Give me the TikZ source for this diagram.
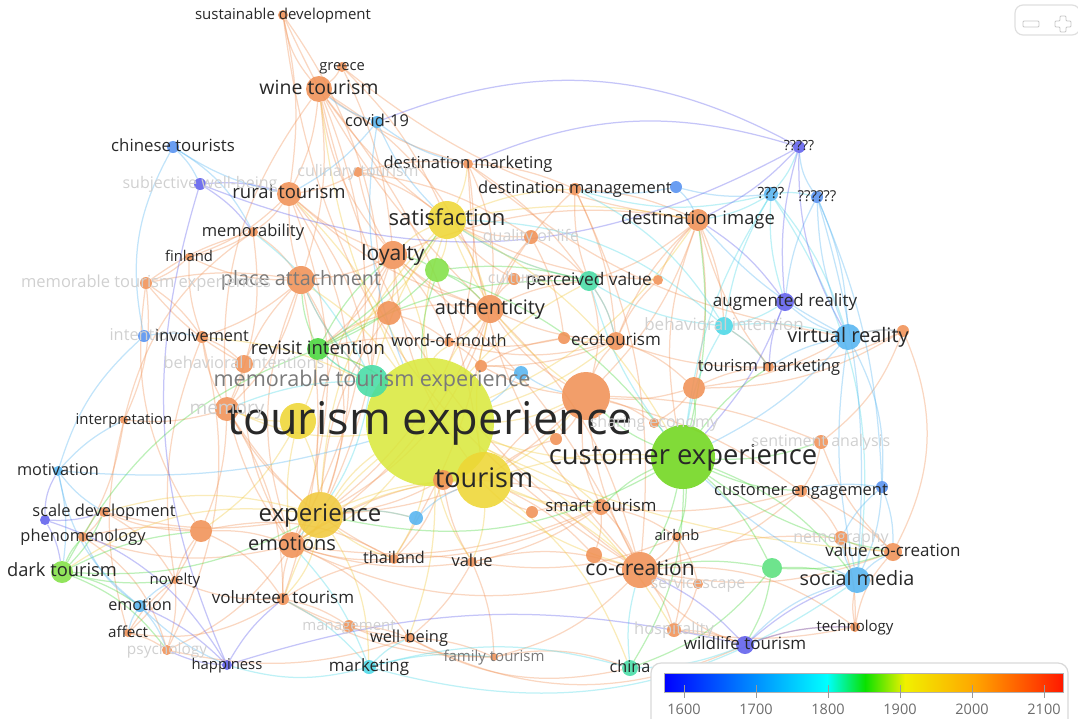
\documentclass[tikz,border=0pt]{standalone}
\usepackage{fontspec}
\setmainfont{Open Sans}
\pgfdeclarelayer{bg}
\pgfsetlayers{bg,main}

\definecolor{txt}{RGB}{40,40,40}
\definecolor{vorange}{RGB}{240,145,85}
\definecolor{vyellow}{RGB}{238,214,52}
\definecolor{vgold}{RGB}{240,200,60}
\definecolor{vlime}{RGB}{218,232,62}
\definecolor{vgreen}{RGB}{112,214,28}
\definecolor{vgreen2}{RGB}{72,214,60}
\definecolor{vlgreen}{RGB}{130,224,70}
\definecolor{vsea}{RGB}{90,224,125}
\definecolor{vteal}{RGB}{70,220,165}
\definecolor{vcyan}{RGB}{75,215,230}
\definecolor{vsky}{RGB}{85,180,240}
\definecolor{vblue}{RGB}{85,145,240}
\definecolor{vindigo}{RGB}{95,95,236}

\newcommand{\fs}[1]{\fontsize{#1}{#1}\selectfont}

\tikzset{
  kw/.style={circle, fill=#1, draw=none, inner sep=0pt, fill opacity=0.88},
  lbl/.style={anchor=base, inner sep=0pt, text=txt, font=\fs{#1}, yshift=-0.27*#1pt},
  dim/.style={text=txt!62},
  faint/.style={text=txt!22},
  edge/.style={draw=#1, line width=1.25pt, draw opacity=0.36},
}

\begin{document}
\begin{tikzpicture}[x=1pt, y=-1pt]
    \useasboundingbox (0,0) rectangle (1078,718);

    % keywords: circles
    \node[kw=vlime, minimum size=128pt] (te) at (430,422) {};
    \node[kw=vorange, minimum size=48pt] (big) at (586,396) {};
    \node[kw=vgreen, minimum size=64pt] (ce) at (683,457) {};
    \node[kw=vyellow, minimum size=56pt] (tou) at (484,480) {};
    \node[kw=vorange, minimum size=20pt] (tor) at (443,480) {};
    \node[kw=vyellow, minimum size=38pt] (sat) at (447,220) {};
    \node[kw=vgold, minimum size=46pt] (exp) at (320,515) {};
    \node[kw=vyellow, minimum size=36pt] (y298) at (298,421) {};
    \node[kw=vorange, minimum size=36pt] (cocr) at (640,570) {};
    \node[kw=vorange, minimum size=26pt] (wine) at (319,89) {};
    \node[kw=vorange, minimum size=24pt] (rural) at (289,194) {};
    \node[kw=vorange, minimum size=22pt] (dimg) at (698,220) {};
    \node[kw=vorange, minimum size=28pt] (loy) at (393,255) {};
    \node[kw=vorange, minimum size=28pt] (auth) at (490,309) {};
    \node[kw=vorange, minimum size=28pt] (pla) at (301,280) {};
    \node[kw=vteal, minimum size=32pt] (mte) at (372,381) {};
    \node[kw=vgreen2, minimum size=22pt] (rev) at (318,349) {};
    \node[kw=vorange, minimum size=26pt] (emos) at (292,545) {};
    \node[kw=vsky, minimum size=26pt] (smed) at (857,580) {};
    \node[kw=vsky, minimum size=26pt] (vr) at (848,337) {};
    \node[kw=vlgreen, minimum size=22pt] (dark) at (62,572) {};
    \node[kw=vindigo, minimum size=18pt] (ar) at (785,302) {};
    \node[kw=vindigo, minimum size=18pt] (wild) at (745,645) {};
    \node[kw=vorange, minimum size=18pt] (vcc) at (893,552) {};
    \node[kw=vorange, minimum size=16pt] (smart) at (601,507) {};
    \node[kw=vorange, minimum size=12pt] (ceng) at (801,491) {};
    \node[kw=vblue, minimum size=12pt] (ceb) at (882,487) {};
    \node[kw=vteal, minimum size=20pt] (pv) at (589,281) {};
    \node[kw=vorange, minimum size=10pt] (pvr) at (658,280) {};
    \node[kw=vorange, minimum size=12pt] (cult) at (514,279) {};
    \node[kw=vorange, minimum size=18pt] (eco) at (616,341) {};
    \node[kw=vorange, minimum size=12pt] (ecol) at (564,338) {};
    \node[kw=vorange, minimum size=10pt] (tmk) at (769,367) {};
    \node[kw=vcyan, minimum size=18pt] (bint) at (724,326) {};
    \node[kw=vorange, minimum size=10pt] (dmk) at (468,164) {};
    \node[kw=vorange, minimum size=12pt] (dman) at (575,189) {};
    \node[kw=vblue, minimum size=12pt] (dmanb) at (676,187) {};
    \node[kw=vsky, minimum size=12pt] (cov) at (377,122) {};
    \node[kw=vorange, minimum size=10pt] (gre) at (342,67) {};
    \node[kw=vorange, minimum size=10pt] (sdev) at (283,15) {};
    \node[kw=vblue, minimum size=12pt] (chi) at (173,147) {};
    \node[kw=vindigo, minimum size=12pt] (swb) at (200,184) {};
    \node[kw=vorange, minimum size=10pt] (cul) at (358,172) {};
    \node[kw=vorange, minimum size=10pt] (memb) at (253,232) {};
    \node[kw=vorange, minimum size=8pt] (fin) at (189,257) {};
    \node[kw=vorange, minimum size=12pt] (mtes) at (146,283) {};
    \node[kw=vblue, minimum size=12pt] (invb) at (144,336) {};
    \node[kw=vorange, minimum size=12pt] (inv) at (202,337) {};
    \node[kw=vorange, minimum size=18pt] (beh) at (244,364) {};
    \node[kw=vorange, minimum size=24pt] (mem) at (227,409) {};
    \node[kw=vorange, minimum size=8pt] (interp) at (124,420) {};
    \node[kw=vsky, minimum size=10pt] (mot) at (58,471) {};
    \node[kw=vorange, minimum size=10pt] (scd) at (104,512) {};
    \node[kw=vindigo, minimum size=10pt] (scdb) at (45,520) {};
    \node[kw=vorange, minimum size=10pt] (phen) at (83,537) {};
    \node[kw=vorange, minimum size=22pt] (o201) at (201,531) {};
    \node[kw=vorange, minimum size=8pt] (nov) at (175,580) {};
    \node[kw=vsky, minimum size=12pt] (emo) at (140,606) {};
    \node[kw=vorange, minimum size=8pt] (aff) at (128,633) {};
    \node[kw=vorange, minimum size=10pt] (psy) at (167,650) {};
    \node[kw=vindigo, minimum size=10pt] (hap) at (227,665) {};
    \node[kw=vorange, minimum size=12pt] (vol) at (283,599) {};
    \node[kw=vorange, minimum size=12pt] (mgmt) at (349,626) {};
    \node[kw=vcyan, minimum size=14pt] (mkt) at (369,667) {};
    \node[kw=vorange, minimum size=10pt] (wb) at (409,638) {};
    \node[kw=vorange, minimum size=8pt] (fam) at (494,657) {};
    \node[kw=vteal, minimum size=16pt] (china) at (630,668) {};
    \node[kw=vorange, minimum size=10pt] (thai) at (394,559) {};
    \node[kw=vorange, minimum size=10pt] (val) at (472,562) {};
    \node[kw=vorange, minimum size=10pt] (air) at (677,537) {};
    \node[kw=vorange, minimum size=10pt] (tech) at (855,627) {};
    \node[kw=vsky, minimum size=14pt] (q4) at (771,194) {};
    \node[kw=vindigo, minimum size=12pt] (q5) at (799,147) {};
    \node[kw=vblue, minimum size=12pt] (q6) at (817,197) {};
    \node[kw=vorange, minimum size=10pt] (shar) at (654,423) {};
    \node[kw=vorange, minimum size=14pt] (sent) at (821,442) {};
    \node[kw=vorange, minimum size=14pt] (hosp) at (674,630) {};
    \node[kw=vorange, minimum size=14pt] (qol) at (531,237) {};
    \node[kw=vorange, minimum size=14pt] (capo) at (841,538) {};
    \node[kw=vsea, minimum size=20pt] (serv) at (772,568) {};
    \node[kw=vorange, minimum size=22pt] (o694) at (694,388) {};
    \node[kw=vlgreen, minimum size=24pt] (g437) at (437,270) {};
    \node[kw=vorange, minimum size=24pt] (o389) at (389,313) {};
    \node[kw=vorange, minimum size=12pt] (o481) at (481,366) {};
    \node[kw=vsky, minimum size=14pt] (b521) at (521,373) {};
    \node[kw=vsky, minimum size=14pt] (b416) at (416,518) {};
    \node[kw=vorange, minimum size=12pt] (o556) at (556,439) {};
    \node[kw=vorange, minimum size=12pt] (o532) at (532,512) {};
    \node[kw=vorange, minimum size=16pt] (o594) at (594,555) {};
    \node[kw=vorange, minimum size=10pt] (o698) at (698,584) {};
    \node[kw=vorange, minimum size=12pt] (o903) at (903,331) {};
    \node[kw=vorange, minimum size=10pt] (wom) at (449,342) {};

    % links
    \begin{pgfonlayer}{bg}
    \foreach \a/\b/\c in {wine/rural/10, wine/gre/-10, wine/sdev/15, wine/loy/-15, wine/auth/20, wine/dmk/-10, wine/sat/-8, wine/pla/12, wine/emos/25, wine/cocr/-20, wine/tou/15,
        sdev/rural/10, sdev/exp/30, sdev/cocr/-25, sdev/auth/-10, gre/loy/10, gre/dimg/-15,
        rural/memb/10, rural/pla/-8, rural/loy/-10, rural/fin/12, rural/mte/15, rural/emos/20, rural/auth/-12, rural/cul/-10,
        dmk/dman/10, dmk/auth/15, dmk/cocr/-20, dmk/vr/-15, dmk/pv/10,
        dman/dimg/10, dman/cocr/15, dman/auth/-10, dman/pv/-10, dman/eco/10,
        dimg/pv/10, dimg/eco/-12, dimg/loy/-15, dimg/bint/10, dimg/big/12, dimg/ce/-15, dimg/o694/10, dimg/tmk/-10,
        loy/pla/10, loy/auth/-10, loy/rev/12, loy/mte/-10, loy/o389/8, loy/wom/10, loy/tou/-15, loy/cocr/12,
        auth/eco/-10, auth/pv/10, auth/wom/10, auth/big/-12, auth/exp/20, auth/emos/15, auth/thai/10,
        pla/memb/-10, pla/inv/10, pla/beh/-10, pla/mem/15, pla/mte/-10, pla/fin/12, pla/mtes/-10, pla/emos/-20, pla/vol/15,
        memb/fin/10, memb/mtes/-10, memb/interp/-20, memb/mem/15,
        mtes/inv/10, mtes/interp/15, mtes/beh/-10, mtes/o201/-20,
        inv/beh/10, inv/mem/-10, inv/psy/20, inv/nov/-15, beh/mem/10, beh/emos/-15,
        mem/emos/-10, mem/o201/10, mem/vol/15, mem/exp/-10,
        interp/phen/10, interp/mem/-10, interp/aff/-15,
        scd/phen/10, scd/o201/-10, scd/exp/-12, scd/nov/15,
        phen/o201/10, phen/emos/-15, phen/psy/20,
        o201/emos/10, o201/nov/-10, o201/vol/15, o201/aff/10,
        nov/psy/10, nov/aff/-10, nov/vol/-12, aff/psy/10, aff/vol/-20, psy/wb/-15, psy/emos/-15,
        vol/emos/10, vol/wb/-10, vol/thai/12, vol/fam/-15, vol/mgmt/10,
        emos/exp/10, emos/thai/-10, emos/val/-12, emos/wb/15, emos/cocr/-20, emos/smart/-15,
        mgmt/wb/10, mgmt/fam/-10, wb/fam/10, wb/val/-10, wb/china/-20, wb/wild/-25,
        fam/val/-10, fam/china/15, fam/cocr/-15,
        thai/val/10, thai/smart/-12, val/cocr/15, val/smart/-10, val/air/-15,
        smart/cocr/10, smart/o532/-10, smart/air/12, smart/ceng/-10, smart/big/15, smart/o594/10,
        cocr/air/-10, cocr/o594/10, cocr/o698/-8, cocr/hosp/10, cocr/wild/-15, cocr/vcc/-15, cocr/capo/12, cocr/tech/20, cocr/ceng/-15, cocr/big/10,
        air/hosp/12, air/o698/10, air/ceng/-10, hosp/tech/-10, hosp/wild/10, hosp/o698/-10,
        ceng/vcc/10, ceng/capo/12, ceng/big/-10, ceng/sent/-12,
        vcc/capo/10, vcc/tech/-15, vcc/sent/12, vcc/o903/-25, capo/tech/10, sent/o903/-15, sent/big/-10,
        big/eco/10, big/o694/-10, big/o556/10, big/shar/10, big/tou/-12, big/pv/-15, big/exp/20, big/o481/10,
        o694/tmk/10, o694/o903/-15, o694/eco/-12, o694/shar/10, o694/vr/-10,
        tmk/o903/-10, tmk/eco/10, tmk/bint/-10,
        eco/ecol/10, eco/pv/-10, eco/wom/15, eco/o481/10, ecol/wom/10, ecol/o481/-10, ecol/qol/-10,
        qol/sat/10, qol/auth/-10, qol/pv/10, qol/cul/-12, cult/pv/10, cult/auth/-10, cult/sat/10,
        o389/wom/10, o389/rev/-10, o389/auth/10, o389/exp/-15, wom/o481/10, wom/rev/-10,
        o481/b521/10, o556/tou/-10, o532/tou/10, o594/tou/-10,
        tor/emos/-10, tor/exp/10, tor/val/-10, tor/thai/12, tor/smart/10,
        cul/sat/10, cul/loy/-10, cul/dmk/10, fin/mtes/10, fin/inv/-10,
        o903/vr/-10, tech/smed/10, tech/wild/-10, pvr/dimg/10, pvr/eco/-10, pvr/sat/12,
        pla/exp/25, loy/exp/-20, auth/cocr/15, wine/mem/-20, rural/exp/25, mem/thai/-15, o201/thai/20, dmk/exp/30, gre/sat/10}
        \draw[edge=vorange] (\a) to[bend left=\c] (\b);
    \foreach \a/\b/\c in {te/sat/10, te/loy/-10, te/auth/10, te/pla/-10, te/exp/-10, te/emos/15, te/cocr/-15, te/ce/-10, te/dimg/-15, te/rev/-10, te/mte/10, te/wine/10, te/rural/-10,
        te/smart/10, te/thai/10, te/val/-10, te/mem/15, te/vol/-15, te/big/-10, te/inv/-12, te/wom/10, te/pv/10, te/eco/-10, te/vcc/-10, te/hosp/15, te/wb/10,
        sat/loy/-10, sat/auth/10, sat/pv/-10, sat/dimg/10, sat/rev/15, sat/g437/10, sat/dmk/-10, sat/dman/10, sat/big/-15, sat/mte/-10, sat/exp/-20, sat/ce/15,
        tou/ce/10, tou/exp/-10, tou/cocr/10, tou/smart/-10, tou/val/10, tou/big/-10, tou/china/15, tou/emos/-15, tou/auth/10,
        exp/emos/10, exp/y298/-10, exp/vol/15, exp/thai/-10, exp/mkt/15, exp/b416/10, exp/scd/-15, exp/dark/-20,
        y298/mem/10, y298/rev/-10, y298/o201/12, y298/emos/-10}
        \draw[edge=vgold] (\a) to[bend left=\c] (\b);
    \foreach \a/\b/\c in {ce/cocr/10, ce/smart/-10, ce/big/10, ce/ceng/-10, ce/vcc/-12, ce/serv/10, ce/smed/15, ce/sent/-10, ce/air/10, ce/o694/-10, ce/china/15, ce/exp/20, ce/dimg/-10, ce/tmk/10,
        rev/loy/10, rev/mte/-10, rev/pla/10, rev/g437/-10, rev/dark/-20, rev/sat/-10, rev/te/10, rev/pv/15,
        g437/auth/10, g437/loy/-10, g437/pv/10, g437/te/-10, g437/ce/15,
        serv/smed/10, serv/cocr/-10, serv/china/15, serv/vcc/-10, serv/wild/10,
        dark/phen/10, dark/scd/-10, dark/emo/10, dark/nov/-10, dark/exp/-15, dark/psy/15, dark/o201/10}
        \draw[edge=vgreen2] (\a) to[bend left=\c] (\b);
    \foreach \a/\b/\c in {mte/pla/10, mte/mem/-10, mte/rev/10, mte/te/-10, mte/emos/15, mte/memb/-12,
        pv/sat/10, pv/ce/-10, pv/eco/10, pv/bint/-12, china/cocr/10, china/mkt/-15, china/wild/-10,
        bint/vr/10, bint/ar/-10, bint/q4/10, bint/ce/-10, bint/tmk/10, bint/dman/-15, bint/sat/-20,
        mkt/wb/10, mkt/emos/-10, mkt/hap/15, mkt/vol/-10, mkt/smed/-25, mkt/fam/10,
        q4/vr/10, q4/ar/-10, q4/dimg/10, q4/smed/20, q4/q6/10, q4/q5/-10, q4/ce/-12, q4/dman/15}
        \draw[edge=vcyan] (\a) to[bend left=\c] (\b);
    \foreach \a/\b/\c in {cov/wine/10, cov/sat/-10, cov/rural/10, cov/dmk/-12, cov/te/-15,
        vr/ar/10, vr/smed/-10, vr/ce/10, vr/q6/-10, vr/o903/10, vr/tmk/-10, vr/ceb/15, vr/dimg/10,
        smed/vcc/10, smed/ceb/-10, smed/ce/10, smed/wild/-15, smed/capo/10,
        mot/dark/10, mot/scd/-10, mot/invb/15, mot/emo/-20, mot/te/-10, mot/interp/10,
        emo/nov/10, emo/hap/-10, emo/phen/15, emo/psy/10, emo/aff/-10,
        invb/inv/10, invb/chi/20, chi/swb/10, chi/rural/-10, chi/memb/15,
        b521/te/10, b521/big/-10, b416/exp/-10, b416/tou/10,
        ceb/ceng/-10, ceb/vcc/10, ceb/capo/-10, dmanb/dman/10, dmanb/q4/-10, dmanb/dimg/10,
        q6/ar/-10, q6/q5/15, q6/smed/10, q6/vr/-10, q6/ceb/10}
        \draw[edge=vsky] (\a) to[bend left=\c] (\b);
    \foreach \a/\b/\c in {ar/q5/10, ar/ce/10, ar/dimg/-10, ar/tmk/-10,
        q5/dmk/-20, q5/vr/-15, q5/dimg/10, q5/cov/-25,
        wild/hap/-15, wild/smed/10, wild/cocr/-10, wild/tech/10,
        hap/psy/10, hap/emo/-10, hap/scdb/-20, hap/vol/10,
        swb/memb/10, swb/rural/10, swb/hap/-20, swb/q5/-25,
        scdb/dark/10, scdb/scd/-10, scdb/mot/15}
        \draw[edge=vindigo] (\a) to[bend left=\c] (\b);
    \end{pgfonlayer}

    % labels
    \node[lbl=45] (te-l) at (te) {tourism experience};
    \node[lbl=27.4] (ce-l) at (ce) {customer experience};
    \node[lbl=27] (tou-l) at (tou) {tourism};
    \node[lbl=22] (sat-l) at (sat) {satisfaction};
    \node[lbl=24] (exp-l) at (exp) {experience};
    \node[lbl=21] (cocr-l) at (cocr) {co-creation};
    \node[lbl=19.5] (wine-l) at (wine) {wine tourism};
    \node[lbl=18.5] (rural-l) at (rural) {rural tourism};
    \node[lbl=18.4] (dimg-l) at (dimg) {destination image};
    \node[lbl=21] (loy-l) at (loy) {loyalty};
    \node[lbl=20] (auth-l) at (auth) {authenticity};
    \node[lbl=19.8, dim] (pla-l) at (pla) {place attachment};
    \node[lbl=21.6, dim] (mte-l) at (mte) {memorable tourism experience};
    \node[lbl=18.5] (rev-l) at (rev) {revisit intention};
    \node[lbl=20] (emos-l) at (emos) {emotions};
    \node[lbl=19.8] (smed-l) at (smed) {social media};
    \node[lbl=20] (vr-l) at (vr) {virtual reality};
    \node[lbl=18.3] (dark-l) at (dark) {dark tourism};
    \node[lbl=17] (ar-l) at (ar) {augmented reality};
    \node[lbl=17] (wild-l) at (wild) {wildlife tourism};
    \node[lbl=17] (vcc-l) at (vcc) {value co-creation};
    \node[lbl=16.8] (smart-l) at (smart) {smart tourism};
    \node[lbl=16.5] (ceng-l) at (ceng) {customer engagement};
    \node[lbl=17.3] (pv-l) at (pv) {perceived value};
    \node[lbl=17] (eco-l) at (eco) {ecotourism};
    \node[lbl=16.5] (tmk-l) at (tmk) {tourism marketing};
    \node[lbl=17, faint] (bint-l) at (bint) {behavioral intention};
    \node[lbl=16.5] (dmk-l) at (dmk) {destination marketing};
    \node[lbl=16.5] (dman-l) at (dman) {destination management};
    \node[lbl=16.4] (cov-l) at (cov) {covid-19};
    \node[lbl=14.7] (gre-l) at (gre) {greece};
    \node[lbl=15] (sdev-l) at (sdev) {sustainable development};
    \node[lbl=16.8] (chi-l) at (chi) {chinese tourists};
    \node[lbl=16, faint] (swb-l) at (swb) {subjective well-being};
    \node[lbl=16, faint] (cul-l) at (cul) {culinary tourism};
    \node[lbl=16, faint] (qol-l) at (qol) {quality of life};
    \node[lbl=16, faint] (cult-l) at (cult) {culture};
    \node[lbl=16.5] (memb-l) at (memb) {memorability};
    \node[lbl=14.8] (fin-l) at (fin) {finland};
    \node[lbl=16.5, faint] (mtes-l) at (mtes) {memorable tourism experiences};
    \node[lbl=16.3, faint] (invb-l) at (invb) {intention};
    \node[lbl=16.3] (inv-l) at (inv) {involvement};
    \node[lbl=16.3, faint] (beh-l) at (beh) {behavioral intentions};
    \node[lbl=19, faint] (mem-l) at (mem) {memory};
    \node[lbl=16.3] (wom-l) at (wom) {word-of-mouth};
    \node[lbl=14.9] (interp-l) at (interp) {interpretation};
    \node[lbl=16.3] (mot-l) at (mot) {motivation};
    \node[lbl=16.4] (scd-l) at (scd) {scale development};
    \node[lbl=16.4] (phen-l) at (phen) {phenomenology};
    \node[lbl=15] (nov-l) at (nov) {novelty};
    \node[lbl=16.2] (emo-l) at (emo) {emotion};
    \node[lbl=15.2] (aff-l) at (aff) {affect};
    \node[lbl=15.4, faint] (psy-l) at (psy) {psychology};
    \node[lbl=14.8] (hap-l) at (hap) {happiness};
    \node[lbl=17] (vol-l) at (vol) {volunteer tourism};
    \node[lbl=15, faint] (mgmt-l) at (mgmt) {management};
    \node[lbl=17] (mkt-l) at (mkt) {marketing};
    \node[lbl=16.4] (wb-l) at (wb) {well-being};
    \node[lbl=15, dim] (fam-l) at (fam) {family tourism};
    \node[lbl=16.2] (china-l) at (china) {china};
    \node[lbl=16.2] (thai-l) at (thai) {thailand};
    \node[lbl=16.5] (val-l) at (val) {value};
    \node[lbl=14.7] (air-l) at (air) {airbnb};
    \node[lbl=15] (tech-l) at (tech) {technology};
    \node[lbl=15.5] (q4-l) at (q4) {????};
    \node[lbl=14] (q5-l) at (q5) {?????};
    \node[lbl=15] (q6-l) at (q6) {??????};
    \node[lbl=16, faint] (shar-l) at (shar) {sharing economy};
    \node[lbl=16, faint] (sent-l) at (sent) {sentiment analysis};
    \node[lbl=16.5, faint] (hosp-l) at (hosp) {hospitality};
    \node[lbl=16, faint] (o698-l) at (o698) {servicescape};
    \node[lbl=16, faint] (capo-l) at (capo) {netnography};

    % color legend
    \draw[gray!30, line width=1.2pt, rounded corners=10pt, fill=white] (651,663) rectangle (1068,740);
    \shade[left color={rgb,255:red,0;green,0;blue,255}, right color={rgb,255:red,0;green,255;blue,255}] (664,673) rectangle (827,692);
    \shade[left color={rgb,255:red,0;green,255;blue,255}, right color={rgb,255:red,10;green,225;blue,0}] (827,673) rectangle (865,692);
    \shade[left color={rgb,255:red,10;green,225;blue,0}, right color={rgb,255:red,240;green,240;blue,0}] (865,673) rectangle (905,692);
    \shade[left color={rgb,255:red,240;green,240;blue,0}, right color={rgb,255:red,255;green,165;blue,0}] (905,673) rectangle (975,692);
    \shade[left color={rgb,255:red,255;green,165;blue,0}, right color={rgb,255:red,255;green,25;blue,0}] (975,673) rectangle (1063,692);
    \draw[gray!60] (664,673) rectangle (1063,692);
    \foreach \v [count=\i from 0] in {1600,1700,1800,1900,2000,2100} {
        \draw[gray!80, line width=1pt] (684+72*\i,685) -- (684+72*\i,698);
        \node[font=\fs{14.5}, text=gray!85!black] (tick\i) at (684+72*\i,709) {\v};
    }

    % zoom buttons
    \draw[gray!25, line width=1.2pt, rounded corners=8pt] (1015,5) rectangle (1080,35);
    \draw[gray!45, line width=0.8pt, rounded corners=1pt] (1023,21) rectangle (1039,27);
    \draw[gray!45, line width=0.8pt, rounded corners=1pt] (1060,16) -- (1066,16) -- (1066,21) -- (1071,21) -- (1071,27) -- (1066,27) -- (1066,32) -- (1060,32) -- (1060,27) -- (1055,27) -- (1055,21) -- (1060,21) -- cycle;
\end{tikzpicture}
\end{document}
